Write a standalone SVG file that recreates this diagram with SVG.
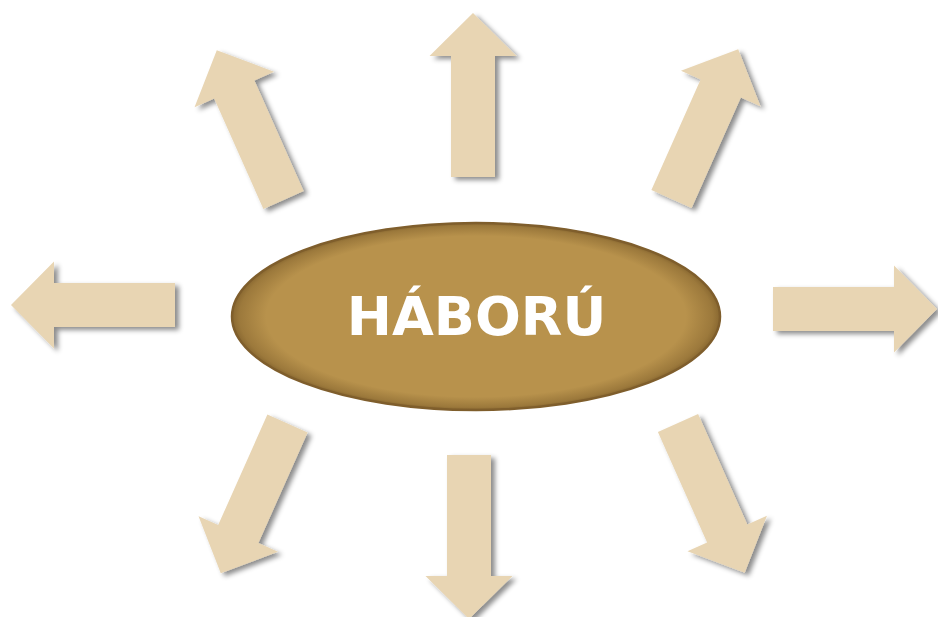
<svg xmlns="http://www.w3.org/2000/svg" width="938" height="617" viewBox="0 0 938 617">
<defs>
<style>
.arrow{fill:#E8D5B3;}
.label{font-family:"DejaVu Sans","Liberation Sans",sans-serif;font-weight:bold;font-size:54px;fill:#FFFFFF;text-anchor:middle;}
</style>
<filter id="sh" x="-30%" y="-30%" width="160%" height="160%">
<feDropShadow dx="4" dy="3" stdDeviation="2.5" flood-color="#000000" flood-opacity="0.45"/>
</filter>
<radialGradient id="edge" cx="0.5" cy="0.5" r="0.5">
<stop offset="0.86" stop-color="#5A3E15" stop-opacity="0"/>
<stop offset="0.97" stop-color="#5A3E15" stop-opacity="0.3"/>
<stop offset="1" stop-color="#5A3E15" stop-opacity="0.5"/>
</radialGradient>
<polygon id="arr" points="-22,0 -22,-121 -43.5,-121 0,-164 43.5,-121 22,-121 22,0"/>
</defs>
<rect width="938" height="617" fill="#FFFFFF"/>
<g id="connectors">
<g filter="url(#sh)"><use href="#arr" class="arrow" transform="translate(473,177)"/></g>
<g filter="url(#sh)"><use href="#arr" class="arrow" transform="translate(469,455) rotate(180)"/></g>
<g filter="url(#sh)"><use href="#arr" class="arrow" transform="translate(175,305) rotate(-90)"/></g>
<g filter="url(#sh)"><use href="#arr" class="arrow" transform="translate(773,309) rotate(90)"/></g>
<g filter="url(#sh)"><use href="#arr" class="arrow" transform="translate(283.5,200) rotate(-24)"/></g>
<g filter="url(#sh)"><use href="#arr" class="arrow" transform="translate(671.5,199) rotate(24)"/></g>
<g filter="url(#sh)"><use href="#arr" class="arrow" transform="translate(287.5,423.5) rotate(204)"/></g>
<g filter="url(#sh)"><use href="#arr" class="arrow" transform="translate(678,423) rotate(156)"/></g>
</g>
<g id="node-haboru">
<ellipse cx="476" cy="316.5" rx="244" ry="93.5" fill="#B8924C"/>
<ellipse cx="476" cy="316.5" rx="244" ry="93.5" fill="url(#edge)" stroke="#7F5E2C" stroke-width="2.5"/>
<text class="label" x="476.5" y="335">HÁBORÚ</text>
</g>
</svg>
